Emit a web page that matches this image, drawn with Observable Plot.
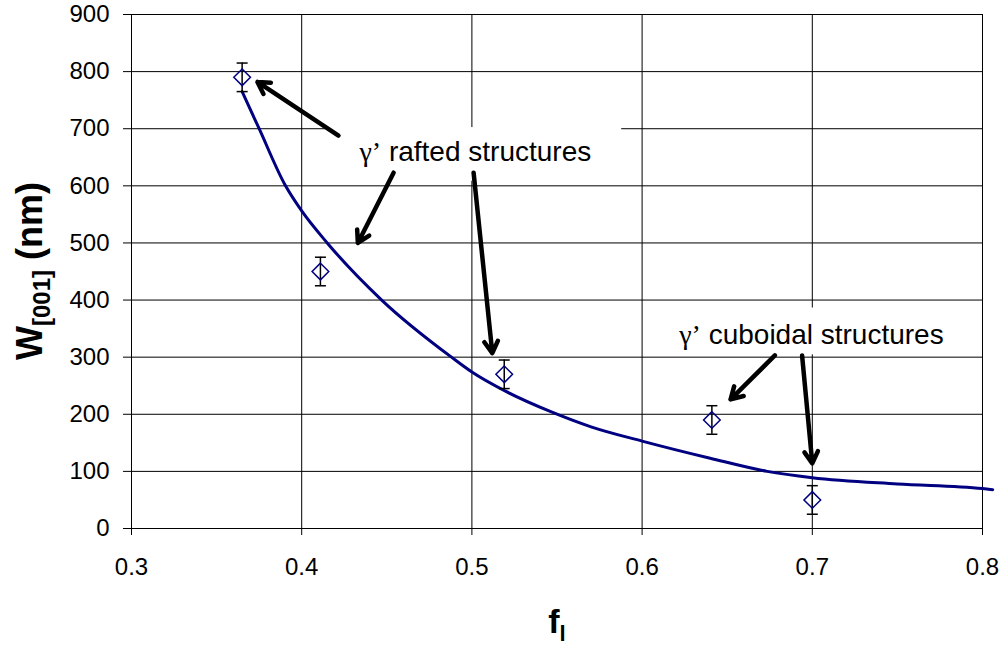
<!DOCTYPE html>
<html>
<head>
<meta charset="utf-8">
<script src="https://cdn.jsdelivr.net/npm/d3@7"></script>
<script src="https://cdn.jsdelivr.net/npm/@observablehq/plot@0.6"></script>
<style>
  html, body { margin: 0; padding: 0; background: #fff; }
  #chart { width: 1005px; height: 647px; }
</style>
</head>
<body>
<div id="chart"></div>
<script>
// Measured points (f_l, W[001] in nm, error bar half-width)
const pointF = [0.365, 0.411, 0.519, 0.641, 0.700];
const pointW = [790, 450, 270, 190, 50];
const pointErr = [25, 25, 25, 25, 25];

// Model curve
const curveF = [0.365, 0.375, 0.3905, 0.400, 0.415, 0.447, 0.488, 0.500, 0.520, 0.546, 0.570, 0.600, 0.640, 0.6735, 0.700, 0.750, 0.800, 0.806];
const curveW = [765, 700, 600, 556, 500, 400, 300, 274, 240, 205, 178, 153, 123, 100, 89, 78, 70, 68];

// Axis ticks
const xTicks = [0.3, 0.4, 0.5, 0.6, 0.7, 0.8];
const yTicks = [0, 100, 200, 300, 400, 500, 600, 700, 800, 900];

// Annotations
const labelText = ["γ’ rafted structures", "γ’ cuboidal structures"];
const labelF = [0.502, 0.6995];
const labelW = [660, 339];
const boxF1 = [0.414, 0.662];
const boxF2 = [0.588, 0.955];
const boxW1 = [608, 304];
const boxW2 = [702, 386];
const arrowF1 = [0.4216, 0.454, 0.501, 0.678, 0.694];
const arrowW1 = [688, 623, 623, 303, 303];
const arrowF2 = [0.374, 0.433, 0.512, 0.652, 0.700];
const arrowW2 = [782, 500, 307, 226, 114];

const points = pointF.map((f, i) => ({f, w: pointW[i], e: pointErr[i]}));
const curve = curveF.map((f, i) => ({f, w: curveW[i]}));
const labels = labelText.map((t, i) => ({t, f: labelF[i], w: labelW[i]}));
const boxes = boxF1.map((f1, i) => ({f1, f2: boxF2[i], w1: boxW1[i], w2: boxW2[i]}));
const arrows = arrowF1.map((f1, i) => ({f1, w1: arrowW1[i], f2: arrowF2[i], w2: arrowW2[i]}));

const capSymbol = {
  draw(context, size) {
    const r = Math.sqrt(size / Math.PI);
    context.moveTo(-r, 0);
    context.lineTo(r, 0);
  }
};

const chart = Plot.plot({
  width: 1005,
  height: 647,
  marginLeft: 131,
  marginRight: 23,
  marginTop: 14,
  marginBottom: 119,
  style: {fontFamily: "'Liberation Sans', Arial, sans-serif", fontSize: "24px", color: "#000", background: "#fff"},
  x: {domain: [0.3, 0.8], label: null},
  y: {domain: [0, 900], label: null},
  marks: [
    Plot.gridX(xTicks, {stroke: "#000", strokeOpacity: 1, strokeWidth: 1}),
    Plot.gridY(yTicks, {stroke: "#000", strokeOpacity: 1, strokeWidth: 1}),
    Plot.rect(boxes, {x1: "f1", x2: "f2", y1: "w1", y2: "w2", fill: "#fff"}),
    Plot.frame({stroke: "#000", strokeWidth: 1}),
    Plot.axisX({ticks: xTicks, tickFormat: d => d.toFixed(1), tickSize: 7, tickPadding: 22, fontSize: 24, label: null}),
    Plot.axisY({ticks: yTicks, tickSize: 8, tickPadding: 14, fontSize: 24, label: null}),
    Plot.line(curve, {x: "f", y: "w", stroke: "#000080", strokeWidth: 3, curve: "monotone-x"}),
    Plot.ruleX(points, {x: "f", y1: d => d.w - d.e, y2: d => d.w + d.e, stroke: "#000", strokeWidth: 1.5}),
    Plot.dot(points, {x: "f", y: d => d.w - d.e, symbol: capSymbol, r: 5.5, stroke: "#000", strokeWidth: 1.5, fill: "none"}),
    Plot.dot(points, {x: "f", y: d => d.w + d.e, symbol: capSymbol, r: 5.5, stroke: "#000", strokeWidth: 1.5, fill: "none"}),
    Plot.dot(points, {x: "f", y: "w", symbol: "diamond2", r: 7.5, stroke: "#000080", strokeWidth: 1.5, fill: "none"}),
    Plot.arrow(arrows, {x1: "f1", y1: "w1", x2: "f2", y2: "w2", stroke: "#000", strokeWidth: 4.5, headLength: 4.5}),
    Plot.text(labels, {x: "f", y: "w", text: "t", fontSize: 28, fill: "#000"})
  ]
});

document.getElementById("chart").appendChild(chart);

const svg = d3.select(chart);
// Serif gamma in annotation labels
svg.selectAll("text").each(function() {
  const t = this.textContent;
  if (t.startsWith("γ’")) {
    const rest = t.slice(2);
    const sel = d3.select(this);
    sel.text(null);
    sel.append("tspan").attr("font-family", "'Liberation Serif', 'Times New Roman', serif").text("γ’");
    sel.append("tspan").text(rest);
  }
});

// Axis titles
const yTitle = svg.append("text")
  .attr("transform", "translate(42,271) rotate(-90)")
  .attr("text-anchor", "middle")
  .attr("font-family", "'Liberation Sans', Arial, sans-serif")
  .attr("font-weight", "bold")
  .attr("font-size", 36)
  .attr("fill", "#000");
yTitle.append("tspan").text("W");
yTitle.append("tspan").attr("font-size", 24).attr("dy", 8).text("[001]");
yTitle.append("tspan").attr("dy", -8).text(" (nm)");

const xTitle = svg.append("text")
  .attr("x", 557)
  .attr("y", 633)
  .attr("text-anchor", "middle")
  .attr("font-family", "'Liberation Sans', Arial, sans-serif")
  .attr("font-weight", "bold")
  .attr("font-size", 34)
  .attr("fill", "#000");
xTitle.append("tspan").text("f");
xTitle.append("tspan").attr("font-size", 22).attr("dy", 8).text("l");
</script>
</body>
</html>
